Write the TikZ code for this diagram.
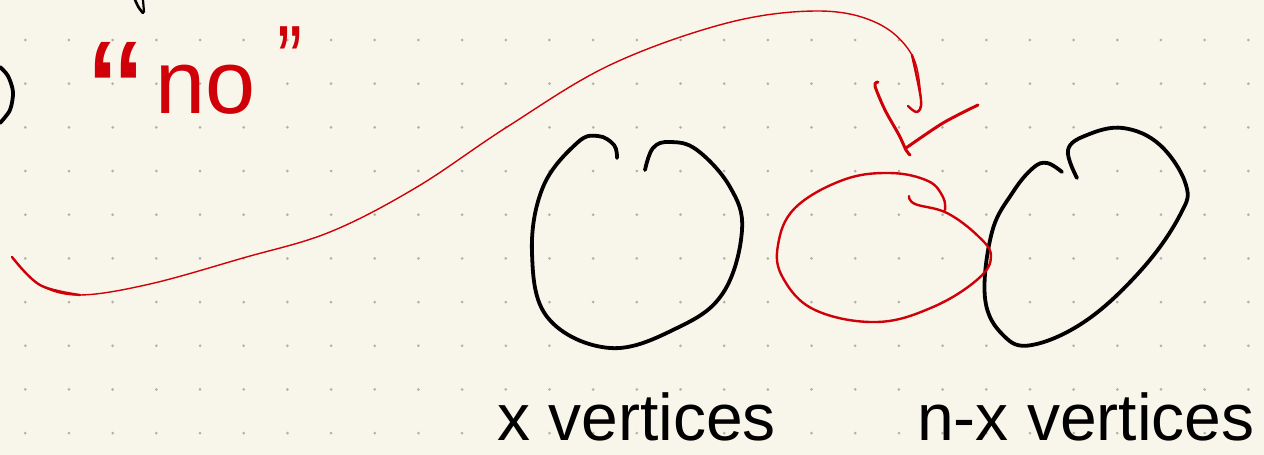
\documentclass[tikz,border=0pt]{standalone}
\usepackage{fontspec}
\setmainfont{Liberation Sans}
\definecolor{paper}{RGB}{248,246,234}
\definecolor{dotgrey}{RGB}{178,178,172}
\definecolor{inkred}{RGB}{208,0,8}
\begin{document}
\begin{tikzpicture}[x=1pt,y=-1pt,
  blackink/.style={line width=3.8pt,line cap=round,line join=round,black},
  redthick/.style={line width=3pt,line cap=round,line join=round,inkred},
  redmid/.style={line width=2.4pt,line cap=round,line join=round,inkred},
  redthin/.style={line width=1.4pt,line cap=round,line join=round,inkred},
  label/.style={inner sep=0pt,anchor=base west,font=\fontsize{66}{70}\selectfont},
  redtext/.style={inner sep=0pt,anchor=base west,text=inkred}]
\fill[paper] (0,0) rectangle (1264,455);
\useasboundingbox (0,0) rectangle (1264,455);
% dot grid
\foreach \i in {0,...,28}{
  \foreach \j in {0,...,9}{
    \fill[dotgrey] (25.3+43.68*\i,40+43.68*\j) circle (1.5);
  }
}
% partial black marks at the top left
\draw[blackink] plot[smooth] coordinates {(0,67) (8,76) (13,92) (10,110) (0,123)};
\draw[blackink,line width=2.6pt] plot[smooth] coordinates {(135,0) (139,8) (143,13)};
\draw[blackink,line width=2.2pt] (143,0) -- (144,12);
% red "no" with quotes
\node[redtext,font=\fontsize{160}{160}\selectfont] (qopen) at (89,152) {“};
\node[redtext,font=\fontsize{90}{90}\selectfont] (no) at (155,113) {no};
\node[redtext,font=\fontsize{100}{100}\selectfont,xscale=0.75] (qclose) at (277,95) {”};
% left black loop (x vertices)
\draw[blackink] plot[smooth,tension=0.65] coordinates {(617,158) (614,145) (598,136) (577,143) (543,187) (532,253) (548,318) (610,348) (677,328) (723,293) (742,230) (730,187) (697,150) (670,142) (653,148) (645,170)};
% right black loop (n-x vertices)
\draw[blackink] plot[smooth,tension=0.65] coordinates {(1062,172) (1047,163) (1033,168) (1013,192) (992,232) (985,298) (1003,335) (1032,345) (1087,320) (1143,268) (1180,215) (1186,185) (1160,145) (1123,128) (1087,135) (1068,150) (1077,178)};
% red ellipse
\draw[redmid] plot[smooth,tension=0.65] coordinates {(909,196) (915,204) (947,213) (978,236) (991,256) (978,279) (933,307) (877,322) (815,310) (783,278) (778,245) (795,208) (843,180) (890,173) (928,181) (943,197) (945,210)};
% red check arrow
\draw[redthick] plot[smooth] coordinates {(878,82) (875,86) (885,110) (899,135) (906,150) (910,155)};
\draw[redthick] plot[smooth] coordinates {(906,148) (943,123) (978,105)};
% big red curve
\coordinate (cstart) at (14,259);
\coordinate (cend) at (917,112);
\draw[redthin] plot[smooth,tension=0.6] coordinates {(cstart) (40,285) (80,295) (150,284) (243,258) (330,232) (417,187) (507,127) (610,65) (727,23) (818,11) (877,23) (912,55) (921,100) (cend)};
\draw[redthick,line width=2.4pt] plot[smooth,tension=0.6] coordinates {(912,55) (921,100) (cend) (908,106)};
\draw[redthick,line width=2.4pt] plot[smooth,tension=0.6] coordinates {(12,257) (40,285) (80,295)};
% labels
\node[label] (xv) at (497,440) {x vertices};
\node[label] (nxv) at (917,440) {n-x vertices};
\end{tikzpicture}
\end{document}
